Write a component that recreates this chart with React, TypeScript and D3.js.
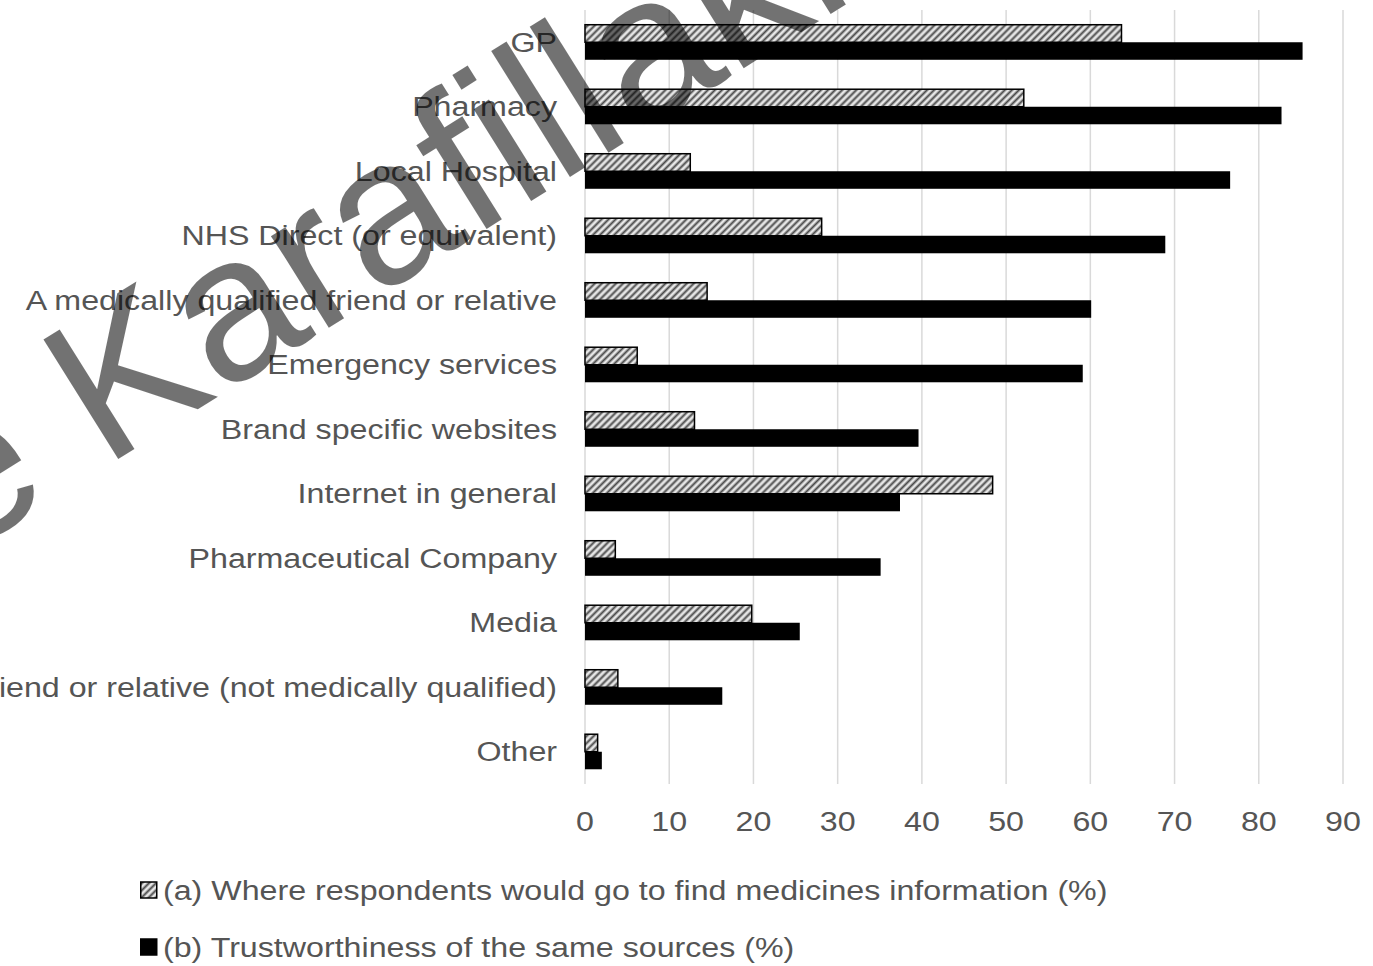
import React from "react";
import * as d3 from "d3";

const categories = [
  "GP",
  "Pharmacy",
  "Local Hospital",
  "NHS Direct (or equivalent)",
  "A medically qualified friend or relative",
  "Emergency services",
  "Brand specific websites",
  "Internet in general",
  "Pharmaceutical Company",
  "Media",
  "Friend or relative (not medically qualified)",
  "Other",
];
const whereGo = [63.7, 52.1, 12.5, 28.1, 14.5, 6.2, 13.0, 48.4, 3.6, 19.8, 3.9, 1.5];
const trust = [85.2, 82.7, 76.6, 68.9, 60.1, 59.1, 39.6, 37.4, 35.1, 25.5, 16.3, 2.0];
const xTicks = [0, 10, 20, 30, 40, 50, 60, 70, 80, 90];
const seriesKeys = ["a", "b"];
const legendLabels = [
  "(a) Where respondents would go to find medicines information (%)",
  "(b) Trustworthiness of the same sources (%)",
];

const W = 1373;
const H = 966;
const FONT = "'Liberation Sans', Arial, sans-serif";
const TEXT = "#555555";
const SX = 1.15;

export default function App() {
  const x = d3.scaleLinear().domain([0, 90]).range([585, 1343]);
  const y = d3.scaleBand<string>().domain(categories).range([10, 784]).padding(0);
  const y1 = d3
    .scaleBand<string>()
    .domain(seriesKeys)
    .range([0, y.bandwidth()])
    .paddingInner(0)
    .paddingOuter(0.84);
  const values = [whereGo, trust];

  return (
    <svg
      width={W}
      height={H}
      style={{ position: "absolute", left: 0, top: 0, background: "#fff" }}
      fontFamily={FONT}
    >
      <defs>
        <pattern
          id="hatch"
          width={5}
          height={5}
          patternUnits="userSpaceOnUse"
          patternTransform="rotate(45)"
        >
          <rect width={5} height={5} fill="#e6e6e6" />
          <line x1={1.5} y1={0} x2={1.5} y2={5} stroke="#4a4a4a" strokeWidth={2} />
        </pattern>
      </defs>
      <rect width={W} height={H} fill="#fff" />

      {/* gridlines */}
      {xTicks.map((t) => (
        <line
          key={t}
          x1={x(t)}
          x2={x(t)}
          y1={10}
          y2={784}
          stroke="#d9d9d9"
          strokeWidth={1.5}
        />
      ))}

      {/* bars */}
      {categories.map((c, i) => (
        <g key={c} transform={`translate(0,${y(c)})`}>
          {seriesKeys.map((k, j) => {
            const v = values[j][i];
            return j === 0 ? (
              <rect
                key={k}
                x={x(0)}
                y={y1(k)!}
                width={x(v) - x(0)}
                height={y1.bandwidth()}
                fill="url(#hatch)"
                stroke="#000"
                strokeWidth={1.5}
              />
            ) : (
              <rect
                key={k}
                x={x(0)}
                y={y1(k)!}
                width={x(v) - x(0)}
                height={y1.bandwidth()}
                fill="#000"
              />
            );
          })}
        </g>
      ))}

      {/* category labels */}
      {categories.map((c) => (
        <g key={c} transform={`translate(557,${y(c)! + y.bandwidth() / 2}) scale(${SX},1)`}>
          <text textAnchor="end" dominantBaseline="central" fontSize={28} fill={TEXT}>
            {c}
          </text>
        </g>
      ))}

      {/* x tick labels */}
      {xTicks.map((t) => (
        <g key={t} transform={`translate(${x(t)},821) scale(${SX},1)`}>
          <text textAnchor="middle" dominantBaseline="central" fontSize={28} fill={TEXT}>
            {t}
          </text>
        </g>
      ))}

      {/* legend */}
      {legendLabels.map((l, i) => (
        <g key={l} transform={`translate(140,${890 + i * 57})`}>
          <rect
            x={0.75}
            y={-8}
            width={16}
            height={16}
            fill={i === 0 ? "url(#hatch)" : "#000"}
            stroke="#000"
            strokeWidth={1.5}
          />
          <g transform={`translate(23,0) scale(${SX},1)`}>
            <text dominantBaseline="central" fontSize={28} fill={TEXT}>
              {l}
            </text>
          </g>
        </g>
      ))}

      {/* watermark */}
      <g transform="translate(104,468) rotate(-32)" opacity={0.55}>
        <text x={0} y={0} textAnchor="end" fontSize={205} fill="#000">
          {"© Emilie\u00a0"}
        </text>
        <text x={0} y={0} fontSize={205} fill="#000">
          Karafillakis
        </text>
      </g>
    </svg>
  );
}
